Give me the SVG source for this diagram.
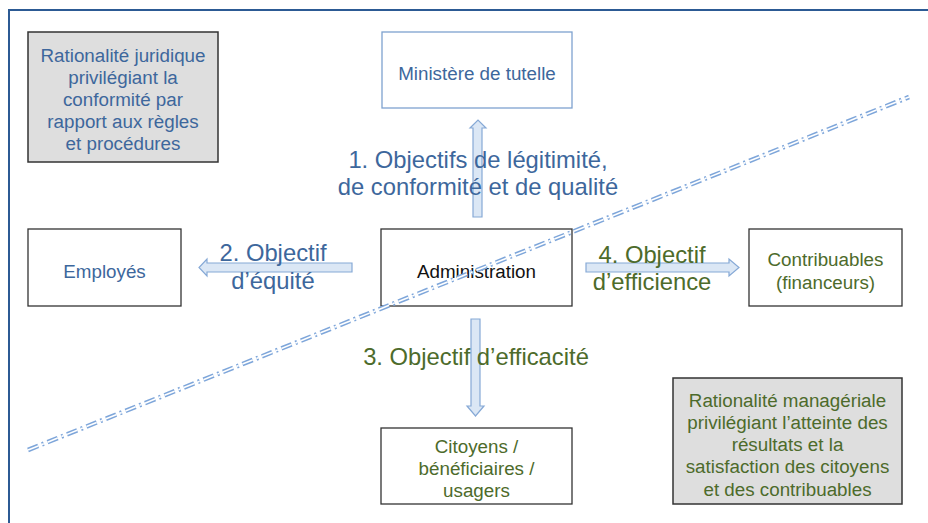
<svg xmlns="http://www.w3.org/2000/svg" width="928" height="523" viewBox="0 0 928 523">
<style>
  .box{fill:#fff;stroke:#333;stroke-width:1.3}
  .gray{fill:#dedede;stroke:#333;stroke-width:1.5}
  .mbox{fill:#fff;stroke:#7ea2cf;stroke-width:1.3}
  text{font-family:"Liberation Sans",Arial,sans-serif;text-anchor:middle}
  .t{font-size:18.8px}
  .big{font-size:23.8px}
  .blue{fill:#3d679c}
  .green{fill:#4d6b2b}
  .blk{fill:#111}
  .arr{fill:#dbe7f5;stroke:#86a9d6;stroke-width:1.2}
  .dash{stroke-dasharray:11 4 2 4}
</style>
<rect x="0" y="0" width="928" height="523" fill="#fff"/>
<path d="M9,523 V10 H928" fill="none" stroke="#2c5a94" stroke-width="2"/>

<g id="connectors">
  <polygon class="arr" points="473,217 473,128 470,128 478,120 486,128 482,128 482,217"/>
  <polygon class="arr" points="352,263 207,263 207,259 199,267.5 207,276 207,272 352,272"/>
  <polygon class="arr" points="586,263 729,263 729,259 739,267.5 729,276 729,272 586,272"/>
  <polygon class="arr" points="471,319 471,406 467,406 475.5,416 484,406 480,406 480,319"/>
</g>

<g id="label1">
  <text class="big blue" x="478" y="168">1. Objectifs de légitimité,</text>
  <text class="big blue" x="478" y="195">de conformité et de qualité</text>
</g>
<g id="label2">
  <text class="big blue" x="273" y="261">2. Objectif</text>
  <text class="big blue" x="273" y="289">d’équité</text>
</g>
<g id="label4">
  <text class="big green" x="652" y="263">4. Objectif</text>
  <text class="big green" x="652" y="290">d’efficience</text>
</g>
<g id="label3">
  <text class="big green" x="476" y="365">3. Objectif d’efficacité</text>
</g>

<g id="rationalite-juridique">
  <rect class="gray" x="28" y="32" width="190" height="130"/>
  <text class="t blue" x="123" y="62">Rationalité juridique</text>
  <text class="t blue" x="123" y="84">privilégiant la</text>
  <text class="t blue" x="123" y="106">conformité par</text>
  <text class="t blue" x="123" y="128">rapport aux règles</text>
  <text class="t blue" x="123" y="150">et procédures</text>
</g>
<g id="ministere">
  <rect class="mbox" x="382" y="32" width="190" height="76"/>
  <text class="t blue" x="477" y="80">Ministère de tutelle</text>
</g>
<g id="employes">
  <rect class="box" x="28" y="229" width="153" height="77"/>
  <text class="t blue" x="104.5" y="278">Employés</text>
</g>
<g id="administration">
  <rect class="box" x="381" y="229" width="191" height="77"/>
  <text class="t blk" x="476.5" y="278">Administration</text>
</g>
<g id="contribuables">
  <rect class="box" x="749" y="229" width="153" height="77"/>
  <text class="t green" x="825.5" y="266">Contribuables</text>
  <text class="t green" x="825.5" y="289">(financeurs)</text>
</g>
<g id="citoyens">
  <rect class="box" x="381" y="428" width="191" height="76"/>
  <text class="t green" x="476.5" y="453">Citoyens /</text>
  <text class="t green" x="476.5" y="475">bénéficiaires /</text>
  <text class="t green" x="476.5" y="497">usagers</text>
</g>
<g id="rationalite-manageriale">
  <rect class="gray" x="673" y="378" width="229" height="126"/>
  <text class="t green" x="787.5" y="407">Rationalité managériale</text>
  <text class="t green" x="787.5" y="429">privilégiant l’atteinte des</text>
  <text class="t green" x="787.5" y="451">résultats et la</text>
  <text class="t green" x="787.5" y="473">satisfaction des citoyens</text>
  <text class="t green" x="787.5" y="496">et des contribuables</text>
</g>

<g id="divider">
  <line class="dash" x1="28" y1="450" x2="909" y2="97" stroke="#7ea6da" stroke-width="4.6"/>
  <line class="dash" x1="28" y1="450" x2="909" y2="97" stroke="#fff" stroke-width="1.6"/>
</g>
</svg>
